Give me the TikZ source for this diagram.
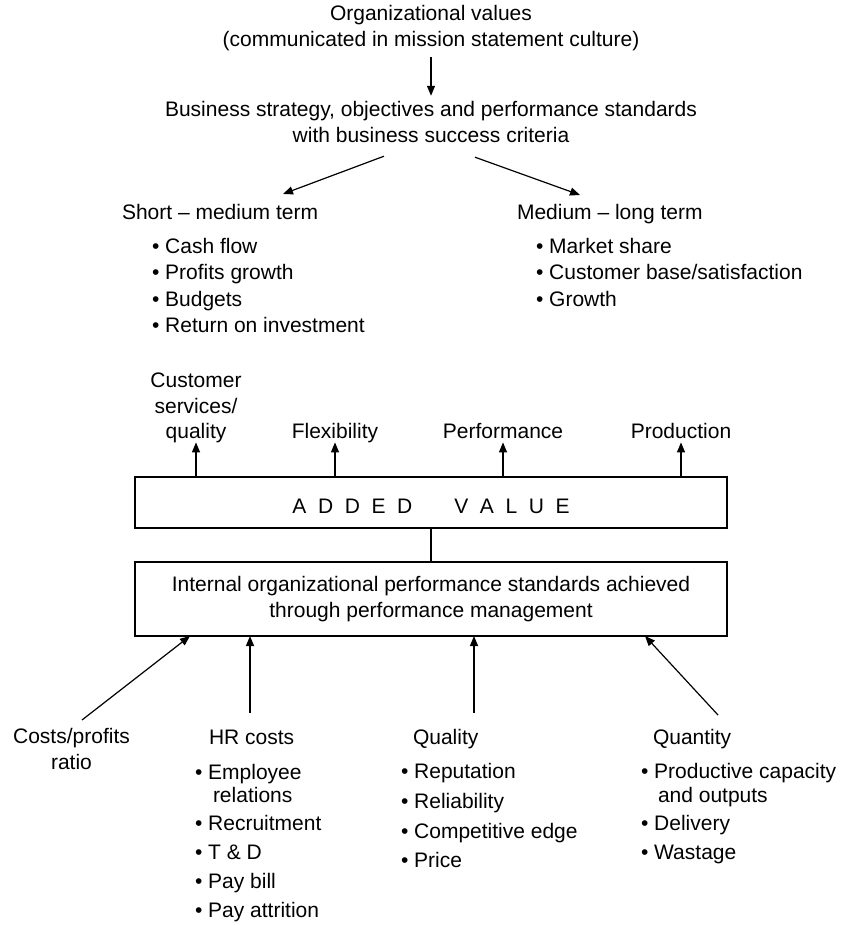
\documentclass[tikz,border=0pt]{standalone}
\usepackage{fontspec}
\setmainfont{Liberation Sans}
\usetikzlibrary{arrows.meta}
% letter and word gaps for the spaced-out box title
\newcommand\lsp{\hspace{11.6pt}}
\newcommand\wsp{\hspace{42pt}}

\begin{document}
\begin{tikzpicture}[x=1pt,y=-1pt,
  txt/.style={font=\fontsize{21}{26}\selectfont, inner sep=0pt, outer sep=0pt},
  lbl/.style={txt, text height=15.3pt, text depth=4.4pt},
  arr/.style={-{Triangle[length=10pt,width=8pt]}, line width=1.2pt},
  boxed/.style={draw, line width=1.4pt, minimum width=592pt, inner sep=0pt, outer sep=0pt,
                font=\fontsize{21}{26}\selectfont}
]
\useasboundingbox (0,0) rectangle (843,925);

% ---- values and strategy
\node[txt, anchor=base] (org1) at (431,21) {Organizational values};
\node[txt, anchor=base] (org2) at (431,47) {(communicated in mission statement culture)};
\node[txt, anchor=base] (bus1) at (431,117) {Business strategy, objectives and performance standards};
\node[txt, anchor=base] (bus2) at (431,143) {with business success criteria};
\draw[arr] ([yshift=-6pt]org2.south) -- ([yshift=6pt]bus1.north);

% ---- time horizons
\node[lbl, anchor=base west] (short) at (122,219) {Short – medium term};
\node[lbl, anchor=base west] (long) at (517,219) {Medium – long term};
\draw[arr] ([xshift=-47pt,yshift=-13pt]bus2.south) -- ([xshift=161pt,yshift=9.7pt]short.north west);
\draw[arr] ([xshift=44pt,yshift=-14pt]bus2.south) -- ([xshift=63pt,yshift=8.7pt]long.north west);

\node[txt, anchor=base west] (s1) at (152,253)   {• Cash flow};
\node[txt, anchor=base west] (s2) at (152,279.6) {• Profits growth};
\node[txt, anchor=base west] (s3) at (152,306.2) {• Budgets};
\node[txt, anchor=base west] (s4) at (152,332.8) {• Return on investment};

\node[txt, anchor=base west] (l1) at (536,253)   {• Market share};
\node[txt, anchor=base west] (l2) at (536,279.6) {• Customer base/satisfaction};
\node[txt, anchor=base west] (l3) at (536,306.2) {• Growth};

% ---- outputs of added value
\node[txt, anchor=base] (cq1) at (196,387.5) {Customer};
\node[txt, anchor=base] (cq2) at (196,413) {services/};
\node[lbl, anchor=base] (cq3) at (196,438) {quality};
\node[lbl, anchor=base] (flex) at (335,438) {Flexibility};
\node[lbl, anchor=base] (perf) at (503,438) {Performance};
\node[lbl, anchor=base] (prod) at (681,438) {Production};

\node[boxed, minimum height=51pt, text height=21pt, text depth=0pt] (av) at (431,502.5)
  {A\lsp D\lsp D\lsp E\lsp D\wsp V\lsp A\lsp L\lsp U\lsp E};

\draw[arr] (av.north -| cq3) -- (cq3.south);
\draw[arr] (av.north -| flex) -- (flex.south);
\draw[arr] (av.north -| perf) -- (perf.south);
\draw[arr] (av.north -| prod) -- (prod.south);

\node[boxed, minimum height=74pt, align=center] (ib) at (431,599)
  {Internal organizational performance standards achieved\\through performance management};
\draw[line width=1.2pt] (av.south) -- (ib.north);

% ---- inputs
\node[lbl, anchor=base] (cp1) at (71.5,743) {Costs/profits};
\node[txt, anchor=base] (cp2) at (71.5,769) {ratio};
\node[lbl, anchor=base west] (hr) at (209,744) {HR costs};
\node[lbl, anchor=base west] (ql) at (413,744) {Quality};
\node[lbl, anchor=base west] (qn) at (653,744) {Quantity};

\draw[arr] ([xshift=10.5pt,yshift=7.7pt]cp1.north) -- ([xshift=55pt]ib.south west);
\draw[arr] ([xshift=41pt,yshift=15.7pt]hr.north west) -- ([xshift=115pt]ib.south west);
\draw[arr] ([xshift=61pt,yshift=15.7pt]ql.north west) -- ([xshift=339pt]ib.south west);
\draw[arr] ([xshift=65pt,yshift=13.7pt]qn.north west) -- ([xshift=-82pt]ib.south east);

\node[txt, anchor=base west] (hr1)  at (195,779) {• Employee};
\node[txt, anchor=base west] (hr1b) at (213,802) {relations};
\node[txt, anchor=base west] (hr2)  at (195,830) {• Recruitment};
\node[txt, anchor=base west] (hr3)  at (195,859) {• T \& D};
\node[txt, anchor=base west] (hr4)  at (195,888) {• Pay bill};
\node[txt, anchor=base west] (hr5)  at (195,917) {• Pay attrition};

\node[txt, anchor=base west] (q1) at (401,778) {• Reputation};
\node[txt, anchor=base west] (q2) at (401,808) {• Reliability};
\node[txt, anchor=base west] (q3) at (401,838) {• Competitive edge};
\node[txt, anchor=base west] (q4) at (401,867) {• Price};

\node[txt, anchor=base west] (n1)  at (641,778) {• Productive capacity};
\node[txt, anchor=base west] (n1b) at (658,802) {and outputs};
\node[txt, anchor=base west] (n2)  at (641,830) {• Delivery};
\node[txt, anchor=base west] (n3)  at (641,859) {• Wastage};
\end{tikzpicture}
\end{document}
